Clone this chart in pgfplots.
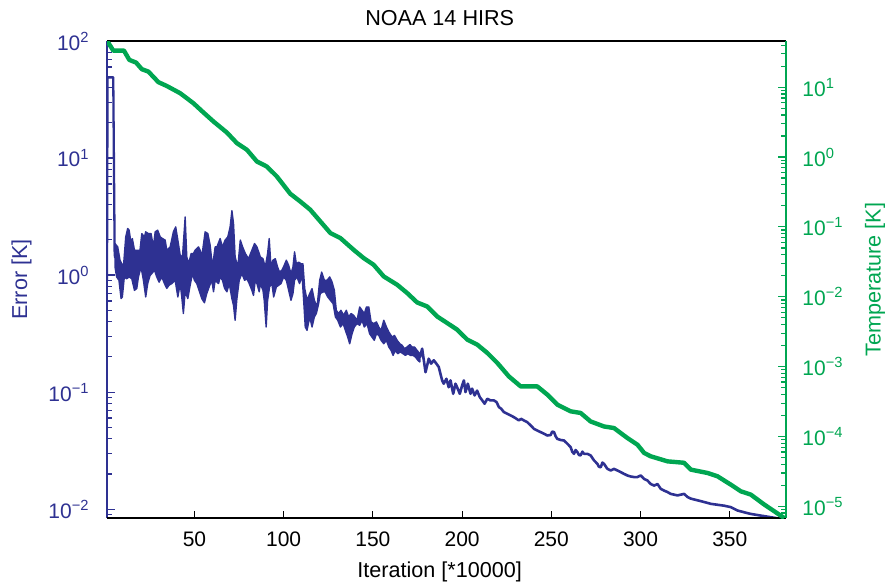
\documentclass[border=0pt]{standalone}
\usepackage{pgfplots}
\pgfplotsset{compat=1.18}
\usepackage{fontspec}
\setmainfont{Liberation Sans}
\definecolor{eblue}{RGB}{46,49,146}
\definecolor{tgreen}{RGB}{0,166,81}
\begin{document}
\fontsize{10.5}{12.6}\selectfont
\begin{tikzpicture}
\begin{axis}[
  scale only axis, width=339.5pt, height=238.5pt,
  at={(0pt,0pt)}, anchor=south west,
  xmin=1, xmax=381.5,
  ymode=log,
  axis y line*=left, axis x line*=bottom,
  tick align=inside,
  major tick length=4pt, minor tick length=2.6pt,
  axis line style={line width=0.6pt},
  tick style={line width=0.6pt, eblue},
  ticklabel style={font=\fontsize{10.5}{12.6}\selectfont},
  ymin=0.0084, ymax=100,
  xtick=\empty,
  ytick={0.01,0.1,1,10,100},
  minor ytick={0.009,0.02,0.03,0.04,0.05,0.06,0.07,0.08,0.09,0.2,0.3,0.4,0.5,0.6,0.7,0.8,0.9,2,3,4,5,6,7,8,9,20,30,40,50,60,70,80,90},
  yticklabels={10\textsuperscript{−2},10\textsuperscript{−1},10\textsuperscript{0},10\textsuperscript{1},10\textsuperscript{2}},
  yticklabel style={eblue, xshift=-5pt},
  y axis line style={eblue},
  x axis line style={black},
  ylabel={Error [K]},
  every axis y label/.style={at={(axis description cs:-0.126,0.5)}, anchor=center, rotate=90, eblue, font=\fontsize{10.8}{13}\selectfont},
  title={NOAA 14 HIRS},
  every axis title/.style={at={(axis description cs:0.49,1.048)}, anchor=center, font=\fontsize{10.8}{13}\selectfont},
]
% initial spike
\addplot[eblue, line width=1.15pt, line join=round] coordinates {
(1,0.9) (1.3,48.9) (4.5,48.9) (5.3,1.5) (5.6,1.4)
};
% dense noisy band (upper envelope forward, lower envelope backward)
\addplot[eblue, fill=eblue, line width=0.7pt, line join=round] coordinates {
(5.5,1.86) (7.0,1.74) (8.3,1.34) (10.2,1.17) (11.5,2.12) (12.6,2.5) (13.4,2.42) (14.5,1.86) (15.2,2.05) (16.4,1.63)
(17.7,1.63) (19.5,1.63) (20.5,2.26) (22.0,2.12) (22.7,2.34) (24.2,2.26) (25.7,2.26) (27.0,1.74) (28.0,2.34) (29.4,2.42)
(30.8,2.12) (32.1,2.05) (33.6,1.99) (34.5,1.63) (36.4,1.74) (38.2,2.34) (39.5,2.58) (40.7,1.99) (42.0,1.48) (43.3,1.43)
(44.8,3.14) (45.7,1.43) (46.7,1.25) (48.2,1.53) (49.5,1.53) (50.4,1.63) (52.3,1.74) (53.2,1.63) (54.1,1.43) (56.0,2.34)
(57.5,2.26) (58.8,1.8) (60.1,1.17) (61.6,1.74) (62.6,1.74) (64.4,2.05) (65.7,1.74) (67.2,1.99) (68.7,2.12) (70.0,2.58)
(71.0,3.55) (71.9,2.76) (72.8,1.43) (74.3,1.17) (75.7,1.99) (77.0,1.74) (78.5,1.53) (80.3,1.38) (82.2,1.63) (83.7,1.86)
(85.0,1.74) (86.3,1.53) (86.9,1.43) (88.4,1.38) (89.7,1.17) (91.0,1.53) (91.9,2.05) (92.9,1.17) (94.0,1.34) (95.3,1.38)
(96.6,1.17) (97.7,1.06) (99.0,1.10) (100.3,1.21) (101.5,1.34) (102.8,1.21) (104.1,1.03) (105.2,1.17) (106.1,1.58) (107.1,1.25)
(108.4,1.29) (109.7,1.25) (110.8,1.25) (111.8,0.766) (113.1,0.609) (114.6,0.695) (115.9,0.766) (117.2,0.609) (118.7,0.534) (120.2,0.903)
(121.3,1.06) (122.8,0.903) (124.3,0.903) (125.8,0.964) (127.1,0.874) (128.4,0.741) (129.5,0.5) (130.8,0.469) (132.1,0.5) (133.6,0.453)
(135.1,0.5) (136.4,0.439) (137.8,0.469) (139.2,0.453) (141.1,0.411) (142.6,0.534) (143.9,0.5) (145.2,0.469) (146.4,0.534) (147.7,0.534)
(149.0,0.398) (150.5,0.385) (152.0,0.398) (153.3,0.36) (154.6,0.337) (156.1,0.411) (157.6,0.36) (158.9,0.327) (160.8,0.295) (162.1,0.305)
(163.6,0.277) (165.1,0.259) (166.4,0.251) (167.7,0.235) (169.2,0.243) (170.7,0.255) (172.0,0.243) (173.3,0.243) (174.8,0.227) (176.3,0.213)
(176.3,0.181) (175.2,0.187) (173.9,0.199) (172.5,0.206) (171.0,0.206) (169.6,0.213) (168.2,0.206) (166.9,0.213) (165.4,0.22) (163.9,0.213)
(162.6,0.227) (161.3,0.206) (160.2,0.227) (158.9,0.243) (157.6,0.277) (156.1,0.259) (154.6,0.277) (153.3,0.305) (152.0,0.315) (150.8,0.277)
(149.5,0.295) (148.2,0.315) (146.7,0.385) (145.2,0.36) (143.9,0.411) (142.6,0.372) (141.1,0.385) (139.6,0.36) (138.3,0.315) (137.0,0.259)
(135.9,0.295) (134.6,0.337) (133.3,0.385) (131.8,0.36) (130.3,0.411) (129.0,0.439) (127.7,0.57) (126.2,0.609) (124.7,0.65) (123.3,0.717)
(122.0,0.717) (120.5,0.695) (119.6,0.57) (118.3,0.469) (117.2,0.439) (115.9,0.36) (114.6,0.439) (113.1,0.337) (112.1,0.36) (111.2,0.609)
(110.3,0.995) (108.9,0.846) (107.4,0.964) (106.1,0.903) (105.2,0.695) (104.1,0.609) (102.8,0.741) (101.5,0.903) (100.0,0.964) (98.5,0.846)
(97.2,0.818) (95.9,0.792) (94.4,0.65) (93.4,0.846) (92.1,0.792) (91.0,0.609) (90.2,0.36) (89.1,0.609) (88.4,0.741) (86.9,0.846)
(86.3,0.72) (85.0,0.846) (84.1,0.903) (83.1,0.67) (82.2,0.74) (80.7,0.846) (79.4,0.93) (78.1,0.903) (76.6,1.03) (75.1,0.903)
(73.8,0.63) (72.8,0.411) (71.9,0.55) (71.0,0.63) (69.5,0.846) (68.2,0.72) (66.9,0.77) (65.7,0.903) (64.4,0.964) (63.5,0.846)
(61.6,0.903) (60.7,0.72) (59.7,0.903) (58.2,0.79) (56.9,0.695) (55.6,0.58) (54.1,0.63) (52.6,0.74) (51.3,0.846) (50.0,0.903)
(48.9,1.03) (47.6,0.82) (46.3,0.63) (44.8,0.72) (43.8,0.47) (42.9,0.65) (42.0,0.846) (40.7,0.65) (39.2,0.903) (37.3,0.846)
(35.8,0.82) (34.5,0.77) (33.2,0.846) (31.7,0.964) (30.2,0.87) (28.9,0.964) (27.6,1.10) (26.1,1.03) (25.1,0.99) (23.8,0.846)
(22.7,0.65) (21.4,0.903) (20.1,1.17) (18.6,0.964) (17.7,0.77) (16.4,0.74) (14.9,0.93) (13.4,0.964) (12.0,0.93) (10.7,0.964)
(9.6,0.65) (8.9,0.63) (7.7,0.903) (6.4,0.964) (5.5,1.17)
} -- cycle;
% tail of the error curve
\addplot[eblue, line width=1.3pt, line join=round] coordinates {
(176.3,0.197) (177.6,0.235) (179.5,0.148) (181.3,0.193) (182.6,0.175) (184.1,0.187) (185.6,0.175) (186.9,0.164) (188.8,0.126) (189.7,0.118)
(191.2,0.13) (192.5,0.11) (193.5,0.126) (195.0,0.0968) (196.3,0.118) (197.2,0.11) (198.7,0.0968) (200.0,0.114) (201.0,0.126) (201.9,0.1)
(203.2,0.118) (204.7,0.0968) (205.6,0.107) (207.0,0.0937) (208.4,0.103) (209.9,0.0906) (211.3,0.0849) (212.6,0.0796) (214.1,0.0877) (215.9,0.0849)
(217.8,0.0849) (219.3,0.0822) (220.6,0.0745) (221.9,0.0721) (223.4,0.0675) (225.3,0.0653) (227.2,0.0632) (229.0,0.0611) (230.5,0.0591) (231.8,0.0573)
(233.1,0.0591) (234.6,0.0573) (236.5,0.0554) (238.4,0.0519) (240.3,0.0485) (242.1,0.047) (244.0,0.0455) (245.9,0.0441) (247.7,0.0426) (249.6,0.043)
(250.5,0.046) (251.5,0.0455) (252.4,0.042) (253.3,0.0399) (255.2,0.039) (257.1,0.0386) (259.0,0.0362) (260.8,0.0339) (261.7,0.031) (262.7,0.0297)
(263.6,0.032) (264.6,0.0307) (265.5,0.029) (266.4,0.0288) (267.4,0.031) (268.3,0.0297) (270.2,0.0297) (272.0,0.0288) (273.9,0.0261) (275.8,0.0244)
(276.7,0.023) (277.7,0.0228) (278.6,0.025) (279.5,0.0244) (281.4,0.0221) (283.3,0.0214) (285.1,0.0221) (287.0,0.0214) (288.9,0.0207) (290.8,0.02)
(292.6,0.0194) (294.5,0.019) (296.4,0.0188) (298.2,0.0188) (300.1,0.0194) (302.0,0.0181) (303.8,0.0176) (305.7,0.0164) (307.6,0.0159) (309.5,0.0164)
(311.3,0.0149) (313.2,0.0144) (315.1,0.014) (316.9,0.0135) (318.8,0.0133) (320.7,0.0131) (322.5,0.0133) (324.4,0.0135) (326.3,0.0127) (328.2,0.0123)
(331.9,0.0119) (335.7,0.0115) (339.4,0.0111) (343.1,0.0109) (346.9,0.0107) (350.6,0.0104) (354.4,0.00973) (358.1,0.0094) (361.8,0.0091) (367.4,0.00881)
(373.0,0.00853) (378.7,0.00825) (380.5,0.00825)
};
\end{axis}
% x axis with black ticks and labels
\begin{axis}[
  scale only axis, width=339.5pt, height=238.5pt,
  at={(0pt,0pt)}, anchor=south west,
  xmin=1, xmax=381.5, ymin=0, ymax=1,
  axis y line=none, axis x line*=bottom,
  tick align=inside,
  major tick length=3.5pt,
  axis line style={line width=0.6pt, black},
  tick style={line width=0.6pt, black},
  ticklabel style={font=\fontsize{10.5}{12.6}\selectfont},
  xtick={50,100,150,200,250,300,350},
  xticklabels={50,100,150,200,250,300,350},
  xticklabel style={yshift=-3pt},
  xlabel={Iteration [*10000]},
  every axis x label/.style={at={(axis description cs:0.49,-0.113)}, anchor=center, font=\fontsize{10.8}{13}\selectfont},
]
\end{axis}
\begin{axis}[
  scale only axis, width=339.5pt, height=238.5pt,
  at={(0pt,0pt)}, anchor=south west,
  xmin=1, xmax=381.5,
  ymode=log,
  axis y line*=right, axis x line*=top,
  tick align=inside,
  major tick length=4pt, minor tick length=2.6pt,
  axis line style={line width=0.6pt},
  tick style={line width=0.6pt, tgreen},
  ticklabel style={font=\fontsize{10.5}{12.6}\selectfont},
  ymin=6.8e-6, ymax=45.8,
  xtick=\empty,
  ytick={1e-5,1e-4,1e-3,1e-2,1e-1,1,10},
  minor ytick={7e-6,8e-6,9e-6,2e-5,3e-5,4e-5,5e-5,6e-5,7e-5,8e-5,9e-5,2e-4,3e-4,4e-4,5e-4,6e-4,7e-4,8e-4,9e-4,2e-3,3e-3,4e-3,5e-3,6e-3,7e-3,8e-3,9e-3,0.02,0.03,0.04,0.05,0.06,0.07,0.08,0.09,0.2,0.3,0.4,0.5,0.6,0.7,0.8,0.9,2,3,4,5,6,7,8,9,20,30,40},
  yticklabels={10\textsuperscript{−5},10\textsuperscript{−4},10\textsuperscript{−3},10\textsuperscript{−2},10\textsuperscript{−1},10\textsuperscript{0},10\textsuperscript{1}},
  yticklabel style={tgreen, xshift=4.5pt},
  y axis line style={tgreen},
  x axis line style={black},
  ylabel={Temperature [K]},
  every axis y label/.style={at={(axis description cs:1.131,0.5)}, anchor=center, rotate=90, tgreen, font=\fontsize{10.8}{13}\selectfont},
]
\addplot[tgreen, line width=2.2pt, line join=round] coordinates {
(1,46.4) (4.5,33.4) (10.5,33.4) (13.5,24.6) (17.3,22.5) (20.5,18.1) (24.2,16.7) (29.8,11.8) (34.5,10.4) (42,8.2)
(49.4,5.9) (55.1,4.33) (60.7,3.22) (68.2,2.24) (73.8,1.58) (79.4,1.27) (85.0,0.863) (90.6,0.731) (96.2,0.526) (103.7,0.298)
(109.3,0.231) (114.9,0.176) (126.2,0.0815) (131.8,0.0691) (139.2,0.047) (144.8,0.0358) (150.4,0.0287) (156.1,0.0195) (163.6,0.01485) (169.2,0.0113)
(174.8,0.00828) (180.4,0.00726) (186.0,0.00522) (191.6,0.00421) (197.3,0.00337) (202.9,0.00243) (208.5,0.00206) (214.1,0.00157) (219.7,0.00113) (226.2,0.000724)
(232.8,0.000521) (242.1,0.000521) (247.8,0.000396) (253.4,0.000285) (260.8,0.000229) (266.4,0.000217) (272.0,0.000164) (279.5,0.000139) (285.1,0.000132) (292.6,9.5e-5)
(298.3,7.6e-5) (302.0,5.8e-5) (305.7,5.2e-5) (315.1,4.4e-5) (324.4,4.2e-5) (328.2,3.35e-5) (337.5,3.0e-5) (343.1,2.69e-5) (350.6,2.04e-5) (356.2,1.64e-5)
(361.8,1.47e-5) (369.3,1.06e-5) (374.9,8.5e-6) (380.5,6.8e-6)
};
\end{axis}
\pgfresetboundingbox
\path (-53.5pt,-33.5pt) rectangle (390.5pt,259pt);
\end{tikzpicture}
\end{document}
